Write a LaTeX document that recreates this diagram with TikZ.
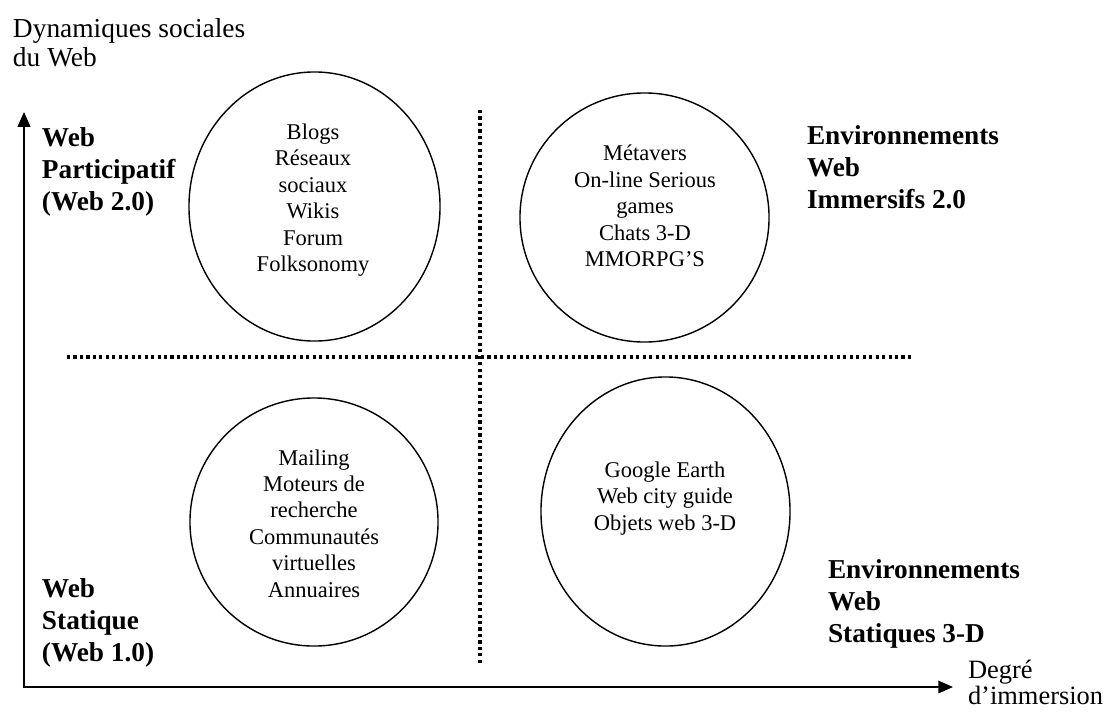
\documentclass[tikz,border=0pt]{standalone}
\usepackage{fontspec}
\setmainfont{Liberation Serif}
\usepackage{tikz}
\usetikzlibrary{arrows.meta}
\usetikzlibrary{shapes.geometric}

\begin{document}
\begin{tikzpicture}[x=0.025cm, y=-0.025cm, every node/.style = {inner sep=0pt, outer sep=0pt}]

\tikzstyle{bubble} = [ellipse, draw, line width=1pt]
\tikzstyle{items} = [align=center, font=\fontsize{16}{18.8}\selectfont]
\tikzstyle{quadrant} = [anchor=north west, align=left, font=\fontsize{19.4}{22.7}\selectfont\bfseries]
\tikzstyle{axis_label} = [anchor=north west, align=left, font=\fontsize{19.5}{21.3}\selectfont]
\tikzstyle{axis} = [line width=1.1pt, {Triangle[length=10.5pt,width=9pt]}-{Triangle[length=10.5pt,width=9pt]}]
\tikzstyle{divider} = [line width=2.2pt, dash pattern=on 2.2pt off 2.4pt]

\useasboundingbox (0,0) rectangle (1116,711);

% axes
\coordinate (origin) at (24,687);
\coordinate (y_tip) at (24,112);
\coordinate (x_tip) at (953,687);
\draw[axis] (y_tip) -- (origin) -- (x_tip);
\node[axis_label] (y_label) at (13,18) {Dynamiques sociales\\du Web};
\node[axis_label, font=\fontsize{18.8}{18.3}\selectfont] (x_label) at (968,660) {Degré\\d’immersion};

% quadrants
\coordinate (v_top) at (480,110);
\coordinate (v_bot) at (480,663);
\coordinate (h_left) at (67,357);
\coordinate (h_right) at (913,357);
\draw[divider] (v_top) -- (v_bot);
\draw[divider] (h_left) -- (h_right);

\node[quadrant] (web2) at (42,128) {Web\\Participatif\\(Web 2.0)};
\node[quadrant] (web1) at (42,579) {Web\\Statique\\(Web 1.0)};
\node[quadrant] (immersifs) at (807,126) {Environnements\\Web\\Immersifs 2.0};
\node[quadrant] (statiques) at (828,560) {Environnements\\Web\\Statiques 3-D};

% bubbles
\node[bubble, minimum width=6.275cm, minimum height=6.725cm] (participatif) at (314.5,206.5) {};
\node[bubble, minimum width=6.225cm, minimum height=6.225cm] (metavers) at (644.5,217.5) {};
\node[bubble, minimum width=6.2cm, minimum height=6.2cm] (statique) at (314,522) {};
\node[bubble, minimum width=6.225cm, minimum height=6.725cm] (objets3d) at (665.5,511.5) {};

\node[items] (participatif_text) at (313,200) {Blogs\\Réseaux\\sociaux\\Wikis\\Forum\\Folksonomy};
\node[items] (metavers_text) at (645,206) {Métavers\\On-line Serious\\games\\Chats 3-D\\MMORPG’S};
\node[items] (statique_text) at (314,523.5) {Mailing\\Moteurs de\\recherche\\Communautés\\virtuelles\\Annuaires};
\node[items] (objets3d_text) at (665,498.5) {Google Earth\\Web city guide\\Objets web 3-D};
\end{tikzpicture}
\end{document}
